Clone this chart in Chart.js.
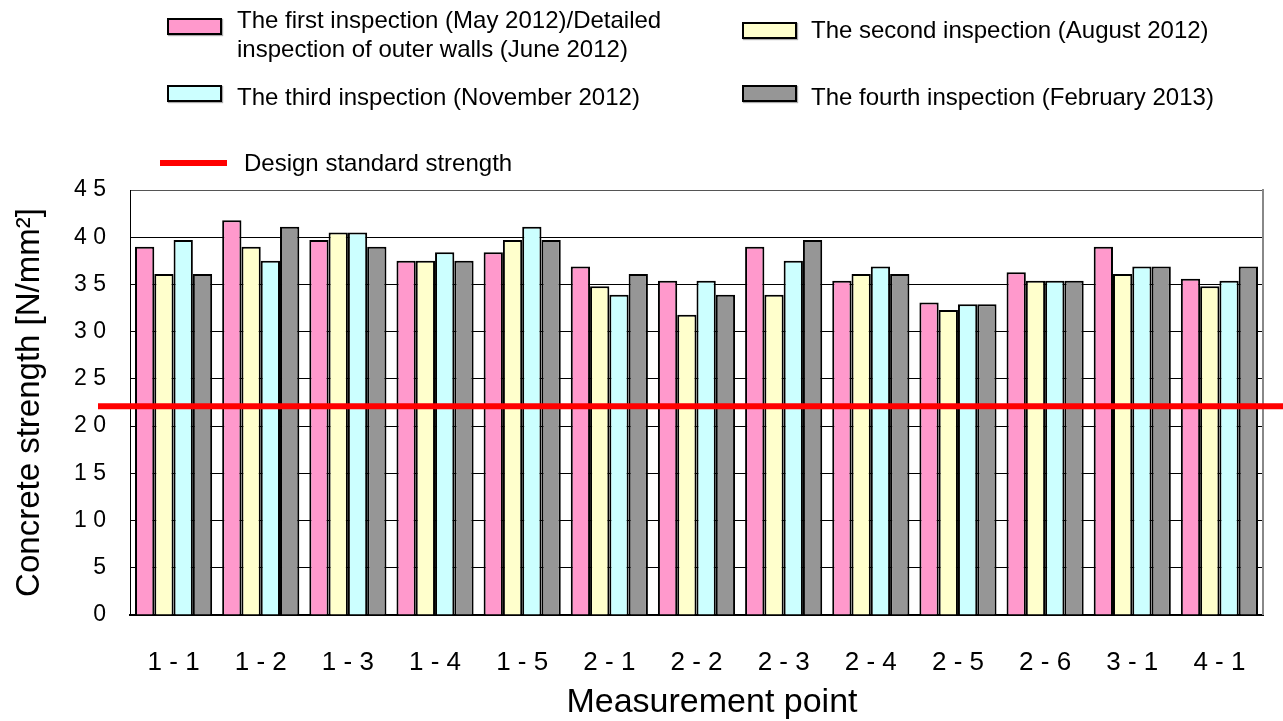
<!DOCTYPE html>
<html>
<head>
<meta charset="utf-8">
<script src="https://cdn.jsdelivr.net/npm/chart.js@4"></script>
<style>
	body { margin: 0; background: #fff; }
	#wrap { position: relative; width: 1283px; height: 721px; font-family: "Liberation Sans", Arial, sans-serif; }
	#chart { position: absolute; left: 0; top: 0; }
	.key { position: absolute; font-size: 24px; color: #000; line-height: 29px; }
	.box { position: absolute; width: 51px; height: 13px; border: 2px solid #000; box-shadow: 1px 1px 1px #aaa; }
	.rule { position: absolute; width: 67px; height: 6px; background: #ff0000; }
	#xtitle { position: absolute; left: 512px; top: 680px; width: 400px; text-align: center; font-size: 34px; line-height: 40px; color: #000; }
</style>
</head>
<body>
<div id="wrap">
	<canvas id="chart" width="1283" height="721"></canvas>

	<div class="box" style="left:167px; top:18px; background:#ff99cc;"></div>
	<div class="key" style="left:237px; top:5px;">The first inspection (May 2012)/Detailed<br>inspection of outer walls (June 2012)</div>

	<div class="box" style="left:742px; top:22px; background:#ffffcc;"></div>
	<div class="key" style="left:811px; top:15px;">The second inspection (August 2012)</div>

	<div class="box" style="left:167px; top:85px; background:#ccffff;"></div>
	<div class="key" style="left:237px; top:82px;">The third inspection (November 2012)</div>

	<div class="box" style="left:742px; top:85px; background:#969696;"></div>
	<div class="key" style="left:811px; top:82px;">The fourth inspection (February 2013)</div>

	<div class="rule" style="left:160px; top:160px;"></div>
	<div class="key" style="left:244px; top:148px;">Design standard strength</div>

	<div id="xtitle">Measurement point</div>
</div>

<script>
// measurement points along the x axis
const points = ['1 - 1', '1 - 2', '1 - 3', '1 - 4', '1 - 5', '2 - 1', '2 - 2', '2 - 3', '2 - 4', '2 - 5', '2 - 6', '3 - 1', '4 - 1'];

// concrete strength readings [N/mm2], one array per inspection
const first  = [39.0, 41.8, 39.7, 37.5, 38.4, 36.9, 35.4, 39.0, 35.4, 33.1, 36.3, 39.0, 35.6];
const second = [36.1, 39.0, 40.5, 37.5, 39.7, 34.8, 31.8, 33.9, 36.1, 32.3, 35.4, 36.1, 34.8];
const third  = [39.7, 37.5, 40.5, 38.4, 41.1, 33.9, 35.4, 37.5, 36.9, 32.9, 35.4, 36.9, 35.4];
const fourth = [36.1, 41.1, 39.0, 37.5, 39.7, 36.1, 33.9, 39.7, 36.1, 32.9, 35.4, 36.9, 36.9];

const designStrength = 22.1;
const yTicks = [0, 5, 10, 15, 20, 25, 30, 35, 40, 45];

const font = '"Liberation Sans", Arial, sans-serif';

// red design strength line runs past both sides of the plot, and the
// right edge of the frame is a grey line
const extras = {
	id: 'extras',
	afterDatasetsDraw(chart) {
		let c = chart.ctx;
		let area = chart.chartArea;
		let y = chart.scales.y.getPixelForValue(designStrength);
		c.save();
		c.strokeStyle = '#888888';
		c.lineWidth = 2;
		c.beginPath();
		c.moveTo(area.right, area.top - 1);
		c.lineTo(area.right, area.bottom);
		c.stroke();
		c.strokeStyle = '#ff0000';
		c.lineWidth = 6;
		c.beginPath();
		c.moveTo(98, y);
		c.lineTo(chart.width, y);
		c.stroke();
		c.restore();
	}
};

function bars(label, data, color) {
	return {
		label: label,
		data: data,
		backgroundColor: color,
		borderColor: '#000000',
		borderWidth: 2,
		barPercentage: 1.0,
		categoryPercentage: 0.885
	};
}

let ctx = document.getElementById('chart').getContext('2d');
let chart = new Chart(ctx, {
	type: 'bar',
	data: {
		labels: points,
		datasets: [
			bars('The first inspection (May 2012)/Detailed inspection of outer walls (June 2012)', first, '#ff99cc'),
			bars('The second inspection (August 2012)', second, '#ffffcc'),
			bars('The third inspection (November 2012)', third, '#ccffff'),
			bars('The fourth inspection (February 2013)', fourth, '#969696')
		]
	},
	options: {
		responsive: false,
		animation: false,
		layout: {padding: {top: 190, right: 20, left: 0, bottom: 0}},
		plugins: {
			legend: {display: false},
			tooltip: {enabled: false}
		},
		scales: {
			x: {
				grid: {display: false},
				border: {color: '#000000', width: 2},
				ticks: {color: '#000', font: {family: font, size: 26}, padding: 24},
				afterFit(scale) { scale.height = 106; }
			},
			y: {
				min: 0,
				max: 45,
				afterBuildTicks(scale) { scale.ticks = yTicks.map(v => ({value: v})); },
				grid: {
					color: ctx => ctx.tick && ctx.tick.value === 45 ? '#555555' : '#000000',
					lineWidth: 1,
					drawTicks: false
				},
				border: {color: '#000000', width: 1},
				ticks: {
					color: '#000',
					font: {family: font, size: 23},
					padding: 24,
					callback: v => String(v).split('').join(' ')
				},
				title: {display: true, text: 'Concrete strength [N/mm²]', color: '#000', font: {family: font, size: 33}, padding: {top: 10, bottom: 0}},
				afterFit(scale) { scale.width = 130; }
			}
		}
	},
	plugins: [extras]
});
</script>
</body>
</html>
